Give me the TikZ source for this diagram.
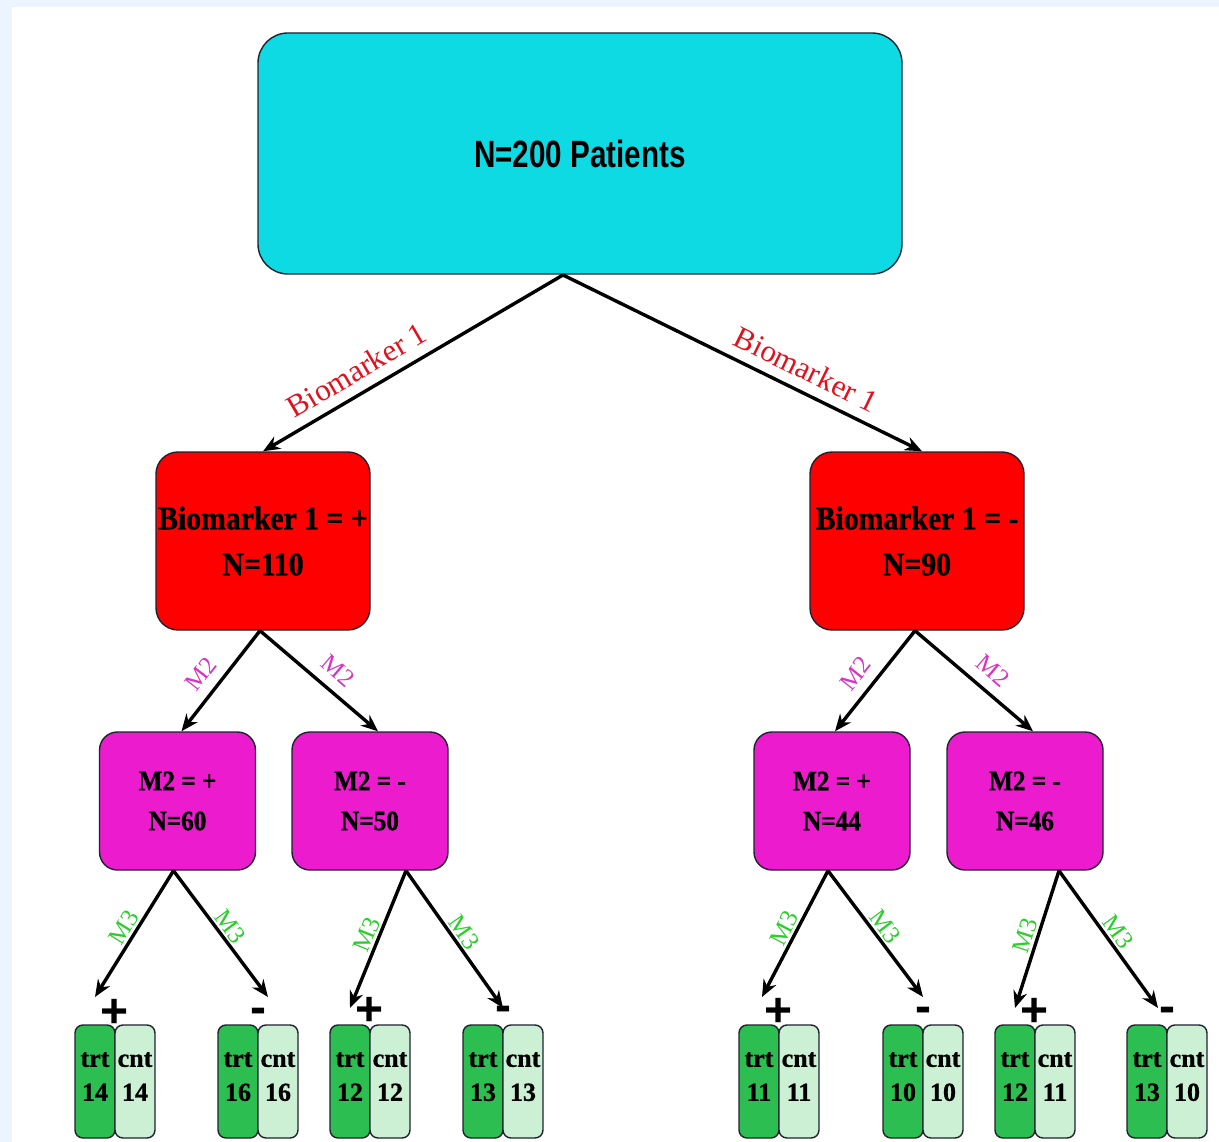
\documentclass[tikz,border=0pt]{standalone}
\usepackage{fontspec}
\setmainfont{Liberation Serif}
\newfontfamily\boxfont[FakeStretch=0.9,FakeBold=1.2]{Liberation Serif}
\newfontfamily\leaffont[FakeBold=1]{Liberation Serif}
\newfontfamily\headfont[FakeStretch=0.78]{Liberation Sans}
\newfontfamily\signfont{Liberation Sans}
\usetikzlibrary{arrows.meta}

\definecolor{edgetint}{RGB}{236,245,255}
\definecolor{boxline}{RGB}{30,34,48}
\definecolor{cyanfill}{RGB}{14,218,228}
\definecolor{redfill}{RGB}{255,0,0}
\definecolor{magfill}{RGB}{236,28,206}
\definecolor{trtfill}{RGB}{44,190,80}
\definecolor{cntfill}{RGB}{204,240,212}
\definecolor{bmred}{RGB}{225,18,30}
\definecolor{mtwo}{RGB}{214,52,196}
\definecolor{mthree}{RGB}{44,206,44}

\tikzset{
  box/.style={draw=boxline, line width=1.4pt, align=center, inner sep=0pt},
  topbox/.style={box, fill=cyanfill, rounded corners=30pt,
    minimum width=644pt, minimum height=241pt,
    font=\headfont\bfseries\fontsize{38}{44}\selectfont},
  redbox/.style={box, fill=redfill, rounded corners=22pt,
    minimum width=214pt, minimum height=178pt,
    font=\boxfont\bfseries\fontsize{33}{46}\selectfont},
  magbox/.style={box, fill=magfill, rounded corners=18pt,
    minimum width=156pt, minimum height=138pt,
    font=\boxfont\bfseries\fontsize{28}{40}\selectfont},
  trtbox/.style={box, fill=trtfill, rounded corners=8pt,
    minimum width=40pt, minimum height=113pt, text depth=10pt,
    font=\leaffont\bfseries\fontsize{26}{34}\selectfont},
  cntbox/.style={trtbox, fill=cntfill},
  sign/.style={inner sep=0pt, font=\signfont\bfseries\fontsize{48}{50}\selectfont},
  link/.style={line width=3.4pt, draw=black, -{Stealth[length=17pt,width=14pt]}},
  bmlabel/.style={sloped, above=7pt, inner sep=3pt, text=bmred,
    font=\rmfamily\fontsize{31}{34}\selectfont},
  mtwolabel/.style={sloped, above=7pt, inner sep=3pt, text=mtwo,
    font=\rmfamily\fontsize{25}{28}\selectfont},
  mthreelabel/.style={sloped, above=0pt, inner sep=2pt, text=mthree,
    font=\rmfamily\fontsize{25}{28}\selectfont},
}

\begin{document}
\begin{tikzpicture}[x=1pt,y=-1pt]
\useasboundingbox (0,0) rectangle (1219,1142);
\fill[white] (0,0) rectangle (1219,1142);
\fill[edgetint] (0,0) rectangle (12,1142);
\fill[edgetint] (0,0) rectangle (1219,7);

% root and first split
\node[topbox] (top) at (580,153.5) {N=200 Patients};
\node[redbox] (bp) at (263,541) {Biomarker 1 = +\\N=110};
\node[redbox] (bn) at (917,541) {Biomarker 1 = -\\N=90};

% second split
\node[magbox] (pp) at (177.5,801) {M2 = +\\N=60};
\node[magbox] (pn) at (370,801) {M2 = -\\N=50};
\node[magbox] (np) at (832,801) {M2 = +\\N=44};
\node[magbox] (nn) at (1025,801) {M2 = -\\N=46};

% treatment / control pairs
\foreach \n/\x/\a/\b in {ppp/75/14/14, ppn/218/16/16, pnp/330/12/12, pnn/463/13/13,
                         npp/739/11/11, npn/883/10/10, nnp/995/12/11, nnn/1127/13/10}{
  \node[trtbox] (\n-trt) at (\x+20,1081.5) {trt\\\a};
  \node[cntbox] (\n-cnt) at (\x+60,1081.5) {cnt\\\b};
}

% signs over the pairs
\node[sign] (ppp-s) at (115,1013) {+};
\node[sign] (ppn-s) at (258,1016) {-};
\node[sign] (pnp-s) at (370,1011) {+};
\node[sign] (pnn-s) at (503,1014) {-};
\node[sign] (npp-s) at (779,1012) {+};
\node[sign] (npn-s) at (923,1015) {-};
\node[sign] (nnp-s) at (1035,1012) {+};
\node[sign] (nnn-s) at (1167,1015) {-};

% arrow end points above the pairs
\coordinate (top-out) at (563,275);
\coordinate (ppp-in) at (95,997);
\coordinate (ppn-in) at (268,997);
\coordinate (pnp-in) at (350,1008);
\coordinate (pnn-in) at (503,1008);
\coordinate (npp-in) at (762,997);
\coordinate (npn-in) at (923,997);
\coordinate (nnp-in) at (1015,1008);
\coordinate (nnn-in) at (1158,1008);

% connectors
\draw[link] (top-out) -- node[bmlabel, pos=0.65] {Biomarker 1} (bp.north);
\draw[link] (top-out) -- node[bmlabel, pos=0.65] {Biomarker 1} ([xshift=5pt]bn.north);

\draw[link] ([xshift=-3pt]bp.south) -- node[mtwolabel, pos=0.55] {M2} ([xshift=4pt]pp.north);
\draw[link] ([xshift=-3pt]bp.south) -- node[mtwolabel, pos=0.55] {M2} ([xshift=8pt]pn.north);
\draw[link] ([xshift=-2pt]bn.south) -- node[mtwolabel, pos=0.55] {M2} ([xshift=3pt]np.north);
\draw[link] ([xshift=-2pt]bn.south) -- node[mtwolabel, pos=0.55] {M2} ([xshift=8pt]nn.north);

\draw[link] ([xshift=-4pt]pp.south) -- node[mthreelabel, pos=0.5] {M3} (ppp-in);
\draw[link] ([xshift=-4pt]pp.south) -- node[mthreelabel, pos=0.5] {M3} (ppn-in);
\draw[link] ([xshift=36pt]pn.south) -- node[mthreelabel, pos=0.5] {M3} (pnp-in);
\draw[link] ([xshift=36pt]pn.south) -- node[mthreelabel, pos=0.5] {M3} (pnn-in);
\draw[link] ([xshift=-4pt]np.south) -- node[mthreelabel, pos=0.5] {M3} (npp-in);
\draw[link] ([xshift=-4pt]np.south) -- node[mthreelabel, pos=0.5] {M3} (npn-in);
\draw[link] ([xshift=34pt]nn.south) -- node[mthreelabel, pos=0.5] {M3} (nnp-in);
\draw[link] ([xshift=34pt]nn.south) -- node[mthreelabel, pos=0.5] {M3} (nnn-in);
\end{tikzpicture}
\end{document}
